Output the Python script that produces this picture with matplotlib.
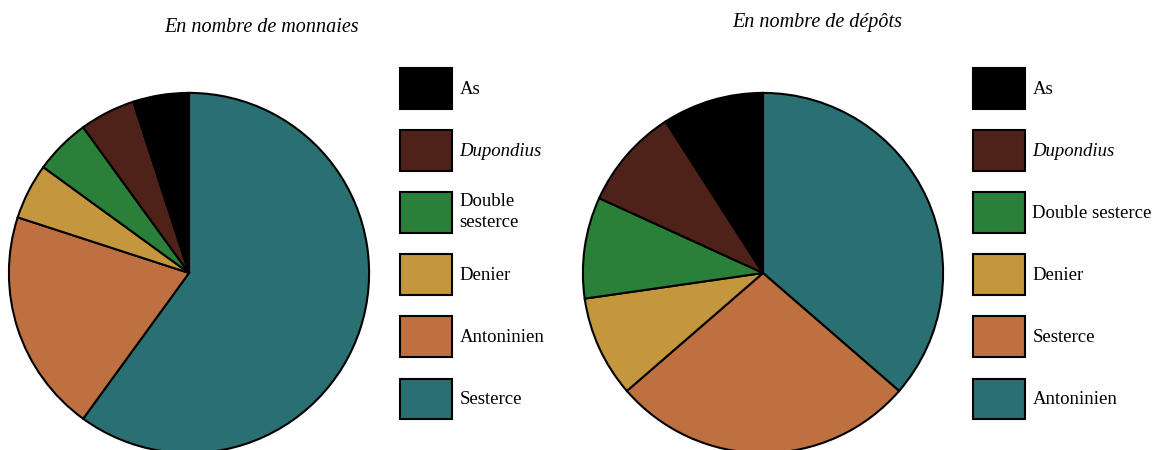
import matplotlib
matplotlib.use("Agg")
import matplotlib.pyplot as plt
from matplotlib.patches import Patch

# Coin types and counts
left_title = "En nombre de monnaies"
left_labels = ["Sesterce", "Antoninien", "Denier", "Double\nsesterce", "Dupondius", "As"]
left_values = [12, 4, 1, 1, 1, 1]

right_title = "En nombre de dépôts"
right_labels = ["Antoninien", "Sesterce", "Denier", "Double sesterce", "Dupondius", "As"]
right_values = [4, 3, 1, 1, 1, 1]

colors = ["#2a7073", "#bf7040", "#c4963e", "#2a8038", "#4e2219", "#000000"]

W, H = 1153, 450
fig = plt.figure(figsize=(W / 100, H / 100), dpi=100)
plt.rcParams["font.family"] = ["Liberation Serif", "DejaVu Serif"]

FS = 13.5


def px_axes(cx, cy, r):
    return fig.add_axes([(cx - r) / W, 1 - (cy + r) / H, 2 * r / W, 2 * r / H])


def draw(ax, values, labels, legend_x, legend_y):
    ax.pie(values, colors=colors, startangle=90, counterclock=False,
           wedgeprops=dict(edgecolor="black", linewidth=1.5))
    ax.set_xlim(-1.005, 1.005)
    ax.set_ylim(-1.005, 1.005)
    ax.set_aspect("equal")
    handles = [Patch(facecolor=c, edgecolor="black", linewidth=1.5) for c in colors]
    leg = fig.legend(handles[::-1], labels[::-1], loc="upper left",
                     bbox_to_anchor=(legend_x / W, 1 - legend_y / H),
                     frameon=False, fontsize=FS, borderpad=0, borderaxespad=0,
                     handlelength=2.77, handleheight=2.98, labelspacing=1.13,
                     handletextpad=0.4)
    for t in leg.get_texts():
        if t.get_text() == "Dupondius":
            t.set_style("italic")
        if "\n" in t.get_text():
            t.set_linespacing(1.3)
    return leg


axl = px_axes(189, 273, 181)
draw(axl, left_values, left_labels, 400, 68)
axr = px_axes(763, 273, 181)
draw(axr, right_values, right_labels, 973, 68)

fig.text(262 / W, 1 - 28 / H, left_title, ha="center", va="center",
         fontsize=14.5, style="italic")
fig.text(817 / W, 1 - 22 / H, right_title, ha="center", va="center",
         fontsize=14.5, style="italic")

fig.savefig("out.png", dpi=100, facecolor="white")
